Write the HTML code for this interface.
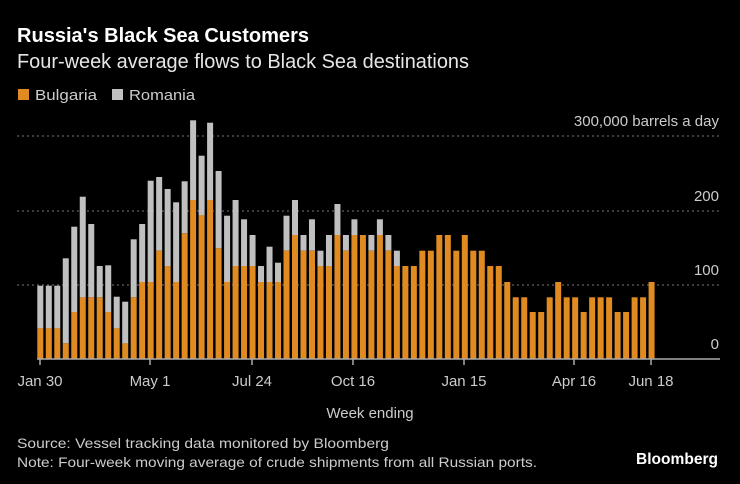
<!DOCTYPE html>
<html><head><meta charset="utf-8"><style>
html,body{margin:0;padding:0;background:#000;}
svg{display:block;font-family:"Liberation Sans",sans-serif;}
</style></head><body>
<svg id="c" width="740" height="484" viewBox="0 0 740 484" xmlns="http://www.w3.org/2000/svg">
<rect width="740" height="484" fill="#000"/>
<text x="17" y="42" fill="#fff" font-size="20" font-weight="bold" textLength="292" lengthAdjust="spacingAndGlyphs">Russia's Black Sea Customers</text>
<text x="17" y="68" fill="#e6e6e6" font-size="20" textLength="452" lengthAdjust="spacingAndGlyphs">Four-week average flows to Black Sea destinations</text>
<rect x="18" y="89" width="11" height="11" fill="#e08b22"/>
<text x="35" y="100" fill="#ccc" font-size="15" textLength="62" lengthAdjust="spacingAndGlyphs">Bulgaria</text>
<rect x="112" y="89" width="11" height="11" fill="#c0c0c0"/>
<text x="129" y="100" fill="#ccc" font-size="15" textLength="66" lengthAdjust="spacingAndGlyphs">Romania</text>
<g stroke="#777" stroke-width="1" stroke-dasharray="2,3">
<line x1="17" y1="136" x2="720" y2="136"/>
<line x1="17" y1="211" x2="720" y2="211"/>
<line x1="17" y1="285" x2="720" y2="285"/>
</g>
<g fill="#ccc" font-size="15" text-anchor="end">
<text x="719" y="126">300,000 barrels a day</text>
<text x="719" y="201">200</text>
<text x="719" y="275">100</text>
<text x="719" y="349">0</text>
</g>
<g id="bars"></g>
<line x1="37" y1="359" x2="720" y2="359" stroke="#aaa" stroke-width="1.5"/>
<g stroke="#aaa" stroke-width="1.5">
<line x1="40" y1="359" x2="40" y2="365"/><line x1="150" y1="359" x2="150" y2="365"/>
<line x1="252" y1="359" x2="252" y2="365"/><line x1="353" y1="359" x2="353" y2="365"/>
<line x1="464" y1="359" x2="464" y2="365"/><line x1="574" y1="359" x2="574" y2="365"/>
<line x1="651" y1="359" x2="651" y2="365"/>
</g>
<g fill="#ccc" font-size="15" text-anchor="middle">
<text x="40" y="386">Jan 30</text><text x="150" y="386">May 1</text>
<text x="252" y="386">Jul 24</text><text x="353" y="386">Oct 16</text>
<text x="464" y="386">Jan 15</text><text x="574" y="386">Apr 16</text>
<text x="651" y="386">Jun 18</text>
<text x="370" y="418">Week ending</text>
</g>
<text x="17" y="448" fill="#ccc" font-size="14" textLength="372" lengthAdjust="spacingAndGlyphs">Source: Vessel tracking data monitored by Bloomberg</text>
<text x="17" y="467" fill="#ccc" font-size="14" textLength="520" lengthAdjust="spacingAndGlyphs">Note: Four-week moving average of crude shipments from all Russian ports.</text>
<text x="718" y="464" fill="#fff" font-size="16" font-weight="bold" text-anchor="end" textLength="82" lengthAdjust="spacingAndGlyphs">Bloomberg</text>
</svg>
<script>
var o=[655,655,655,700,606,562,562,562,606,655,700,562,516,516,422,468,516,370,270,316,270,415,516,468,468,468,516,516,516,422,375,422,422,468,468,375,422,375,375,422,375,422,468,468,468,422,422,375,375,422,375,422,422,468,468,516,562,562,606,606,562,516,562,562,606,562,562,562,606,606,562,562,516];
var t=[527,527,527,445,350,260,342,468,466,560,575,388,342,212,201,237,277,214,31,137,38,183,317,270,328,375,468,410,458,317,270,375,328,422,375,282,375,328,375,375,328,375,422];
var g=document.getElementById('bars'),s='';
for(var i=0;i<o.length;i++){
 var x=(37.3+i*8.49).toFixed(2);
 var yo=110+o[i]/3;
 if(i<t.length){var yt=110+t[i]/3;s+='<rect x="'+x+'" y="'+yt.toFixed(1)+'" width="6" height="'+(yo-yt).toFixed(1)+'" fill="#c0c0c0"/>';}
 s+='<rect x="'+x+'" y="'+yo.toFixed(1)+'" width="6" height="'+(359-yo).toFixed(1)+'" fill="#e08b22"/>';
}
g.innerHTML=s;
</script>
</body></html>
